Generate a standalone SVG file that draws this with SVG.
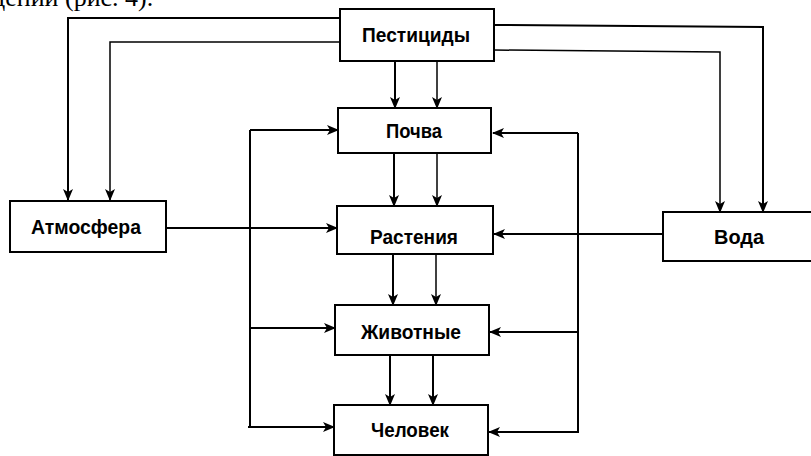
<svg xmlns="http://www.w3.org/2000/svg" width="811" height="456" viewBox="0 0 811 456">
<style>
.box{fill:#fff;stroke:#000;stroke-width:2}
.lbl{font-family:"Liberation Sans",Arial,sans-serif;font-size:20px;font-weight:bold;fill:#000;text-anchor:middle}
.c{fill:none;stroke:#000;stroke-width:2}
.t{fill:none;stroke:#000;stroke-width:1.5}
.cap{font-family:"Liberation Serif","Times New Roman",serif;font-size:26px;fill:#000}
</style>
<defs>
<marker id="ah" viewBox="0 0 12 10" refX="11" refY="5" markerWidth="12" markerHeight="10" markerUnits="userSpaceOnUse" orient="auto">
<path d="M0,0 L12,5 L0,10 L3,5 z" fill="#000"/>
</marker>
</defs>
<text class="cap" x="-8" y="6">дений (рис. 4).</text>
<g id="connectors">
<path class="c" d="M340,18 H68 V200" marker-end="url(#ah)"/>
<path class="t" d="M340,42 H110 V200" marker-end="url(#ah)"/>
<path class="c" d="M494,25 L763,27 V212" marker-end="url(#ah)"/>
<path class="t" d="M494,50 L720,52 V212" marker-end="url(#ah)"/>
<path class="c" d="M395,61 V108" marker-end="url(#ah)"/>
<path class="t" d="M437,61 V108" marker-end="url(#ah)"/>
<path class="c" d="M394,153 V206" marker-end="url(#ah)"/>
<path class="t" d="M437,153 V206" marker-end="url(#ah)"/>
<path class="c" d="M393,254 V305" marker-end="url(#ah)"/>
<path class="t" d="M436,254 V305" marker-end="url(#ah)"/>
<path class="c" d="M390,355 V405" marker-end="url(#ah)"/>
<path class="c" d="M433,355 V405" marker-end="url(#ah)"/>
<path class="c" d="M166,228 H337" marker-end="url(#ah)"/>
<path class="c" d="M663,234 H494" marker-end="url(#ah)"/>
<path class="c" d="M250,130 V428"/>
<path class="c" d="M250,130 H338" marker-end="url(#ah)"/>
<path class="c" d="M249,328 H335" marker-end="url(#ah)"/>
<path class="c" d="M248,427 H334" marker-end="url(#ah)"/>
<path class="c" d="M578,133 V433"/>
<path class="c" d="M578,133 H493" marker-end="url(#ah)"/>
<path class="c" d="M578,332 H490" marker-end="url(#ah)"/>
<path class="c" d="M578,432 H489" marker-end="url(#ah)"/>
</g>
<g id="pesticidy"><rect class="box" x="340" y="9" width="154" height="52"/><text class="lbl" x="416" y="42" textLength="108" lengthAdjust="spacingAndGlyphs">Пестициды</text></g>
<g id="pochva"><rect class="box" x="338" y="108" width="153" height="45"/><text class="lbl" x="414" y="138" textLength="56" lengthAdjust="spacingAndGlyphs">Почва</text></g>
<g id="atmosfera"><rect class="box" x="10" y="201" width="156" height="51"/><text class="lbl" x="86" y="234" textLength="110" lengthAdjust="spacingAndGlyphs">Атмосфера</text></g>
<g id="rastenia"><rect class="box" x="337" y="206" width="156" height="48"/><text class="lbl" x="414" y="244" textLength="88" lengthAdjust="spacingAndGlyphs">Растения</text></g>
<g id="voda"><rect class="box" x="663" y="212" width="160" height="49"/><text class="lbl" x="739" y="244" textLength="50" lengthAdjust="spacingAndGlyphs" font-weight="normal">Вода</text></g>
<g id="zhivotnye"><rect class="box" x="335" y="305" width="154" height="50"/><text class="lbl" x="411" y="339" textLength="100" lengthAdjust="spacingAndGlyphs">Животные</text></g>
<g id="chelovek"><rect class="box" x="334" y="405" width="154" height="50"/><text class="lbl" x="410" y="437" textLength="78" lengthAdjust="spacingAndGlyphs">Человек</text></g>
</svg>
